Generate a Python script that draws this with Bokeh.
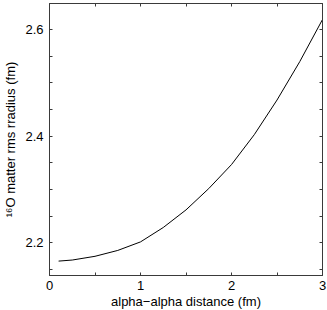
from bokeh.plotting import figure
from bokeh.models import Range1d, LinearAxis, FixedTicker
from bokeh.embed import file_html
from bokeh.resources import INLINE

# data
distance = [0.1, 0.25, 0.5, 0.75, 1.0, 1.25, 1.5, 1.75, 2.0, 2.25, 2.5, 2.75, 3.0]
radius = [2.166, 2.168, 2.175, 2.186, 2.202, 2.229, 2.262, 2.302, 2.347, 2.403, 2.468, 2.540, 2.619]
x_ticks = [0, 1, 2, 3]
x_minor = [0.5, 1.5, 2.5]
y_ticks = [2.2, 2.4, 2.6]
y_minor = [2.15, 2.25, 2.3, 2.35, 2.45, 2.5, 2.55, 2.65]
x_label = "alpha\u2212alpha distance (fm)"
y_label = "\u00b9\u2076O matter rms rradius (fm)"

FONT = "Liberation Sans"
AX = "#3a3a3a"

p = figure(frame_width=273, frame_height=272, output_backend="svg", toolbar_location=None,
           x_range=Range1d(0, 3), y_range=Range1d(2.139, 2.649),
           min_border_left=47, min_border_right=7, min_border_top=3, min_border_bottom=20)
p.grid.visible = False
p.outline_line_color = AX
p.outline_line_width = 1
p.background_fill_color = "white"
p.border_fill_color = "white"

p.line(distance, radius, line_color="black", line_width=1)

def style(ax, ticks, minor, labels=True):
    ax.ticker = FixedTicker(ticks=ticks, minor_ticks=minor)
    ax.major_tick_in = 3
    ax.major_tick_out = 0
    ax.minor_tick_in = 3
    ax.minor_tick_out = 0
    ax.major_tick_line_color = AX
    ax.minor_tick_line_color = AX
    ax.axis_line_color = AX
    if labels:
        ax.major_label_text_font = FONT
        ax.major_label_text_font_size = "13px"
        ax.major_label_text_color = "black"
        ax.axis_label_text_font = FONT
        ax.axis_label_text_font_size = "13px"
        ax.axis_label_text_font_style = "normal"
        ax.axis_label_text_color = "black"
    else:
        ax.major_label_text_font_size = "1px"
        ax.major_label_text_color = None
        ax.major_label_standoff = 0

style(p.xaxis[0], x_ticks, x_minor)
style(p.yaxis[0], y_ticks, y_minor)
p.xaxis[0].major_label_standoff = 5
p.yaxis[0].major_label_standoff = 6
p.xaxis[0].axis_label = x_label
p.xaxis[0].axis_label_standoff = 1
p.yaxis[0].axis_label = y_label
p.yaxis[0].axis_label_standoff = 4

top = LinearAxis()
right = LinearAxis()
style(top, x_ticks, x_minor, labels=False)
style(right, y_ticks, y_minor, labels=False)
p.add_layout(top, "above")
p.add_layout(right, "right")

open("out.html", "w").write(file_html(p, INLINE))
